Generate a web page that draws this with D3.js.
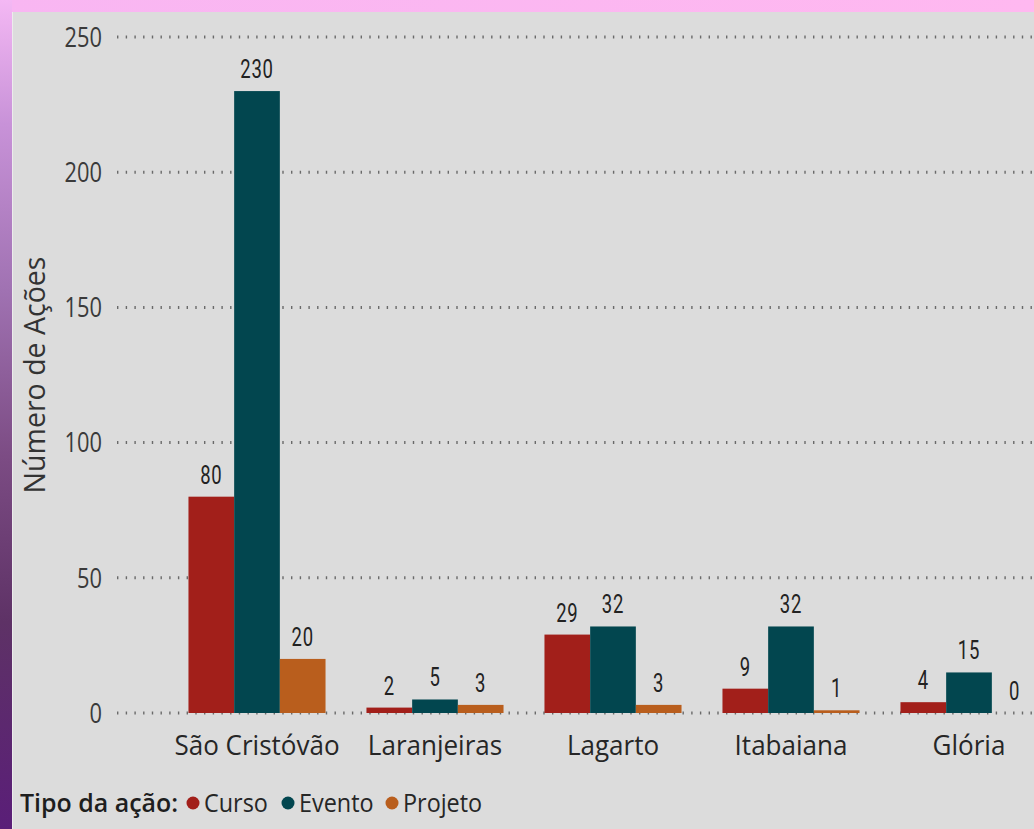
<!DOCTYPE html>
<html><head><meta charset="utf-8">
<script src="https://cdn.jsdelivr.net/npm/d3@7"></script>
<style>html,body{margin:0;padding:0;background:#dcdcdc;}svg{display:block;}</style>
</head><body>
<script>
const categories = ["São Cristóvão", "Laranjeiras", "Lagarto", "Itabaiana", "Glória"];
const seriesNames = ["Curso", "Evento", "Projeto"];
const curso = [80, 2, 29, 9, 4];
const evento = [230, 5, 32, 32, 15];
const projeto = [20, 3, 3, 1, 0];
const yTicks = [0, 50, 100, 150, 200, 250];
const colors = ["#a21f1a", "#02464f", "#b95e1d"];

const W = 1034, H = 829;
const svg = d3.select("body").append("svg").attr("width", W).attr("height", H);
const defs = svg.append("defs");
const lg = defs.append("linearGradient").attr("id","lband").attr("x1",0).attr("y1",0).attr("x2",0).attr("y2",1);
[["0","#f4b8f4"],["0.15","#c892d8"],["0.35","#a072b2"],["0.55","#7c4c84"],["0.75","#5e3266"],["1","#5a1e78"]]
  .forEach(s => lg.append("stop").attr("offset", s[0]).attr("stop-color", s[1]));
const tg = defs.append("linearGradient").attr("id","tband").attr("x1",0).attr("y1",0).attr("x2",1).attr("y2",0);
tg.append("stop").attr("offset","0").attr("stop-color","#f8b6f2");
tg.append("stop").attr("offset","1").attr("stop-color","#ffb8f0");

svg.append("rect").attr("width",W).attr("height",H).attr("fill","#dcdcdc");
svg.append("rect").attr("x",0).attr("y",0).attr("width",W).attr("height",12).attr("fill","url(#tband)");
svg.append("rect").attr("x",0).attr("y",0).attr("width",12).attr("height",H).attr("fill","url(#lband)");
svg.append("rect").attr("x",12).attr("y",12).attr("width",1).attr("height",H-12).attr("fill","#ececec");

const y = d3.scaleLinear().domain([0, 250]).range([713, 37]);
const x = d3.scaleBand().domain(categories).range([168, 1058]).paddingInner(0.23).paddingOuter(0.115);
const xs = d3.scaleBand().domain(seriesNames).range([0, x.bandwidth()]);

function txt(parent, px, py, s, o) {
  const g = parent.append("g").attr("transform", `translate(${px},${py}) scale(${o.sx},1)`);
  return g.append("text").text(s)
    .attr("text-anchor", o.anchor || "middle")
    .attr("font-family", o.family || "'Open Sans', sans-serif")
    .attr("font-size", o.size)
    .attr("font-weight", o.weight || 400)
    .attr("letter-spacing", o.ls || 0)
    .attr("fill", o.fill || "#333")
    .attr("dy", o.dy ?? "0.35em");
}

// gridlines
const grid = svg.append("g");
yTicks.forEach(t => {
  grid.append("line").attr("x1", 117).attr("x2", W).attr("y1", y(t)).attr("y2", y(t))
    .attr("stroke", "#6a6a6a").attr("stroke-width", 3).attr("stroke-dasharray", "1.4 7.3");
  txt(svg, 102, y(t), String(t), {anchor: "end", size: 28, fill: "#3a3a3a", sx: 0.78});
});

// bars
const data = categories.map((c, i) => ({cat: c, vals: [curso[i], evento[i], projeto[i]]}));
const groups = svg.append("g").selectAll("g").data(data).join("g")
  .attr("transform", d => `translate(${x(d.cat)},0)`);
groups.each(function(d) {
  const g = d3.select(this);
  d.vals.forEach((v, k) => {
    const bx = xs(seriesNames[k]);
    g.append("rect").attr("x", bx).attr("width", xs.bandwidth())
      .attr("y", y(v)).attr("height", y(0) - y(v)).attr("fill", colors[k]);
    txt(g, bx + xs.bandwidth()/2, y(v) - 13, String(v),
      {size: 25, weight: 400, family: "Roboto, sans-serif", fill: "#222", sx: 0.74, ls: 1, dy: 0});
  });
});

// category labels
categories.forEach(c => {
  txt(svg, x(c) + x.bandwidth()/2, 745, c, {size: 28, fill: "#262626", sx: 0.93});
});

// y title
const yt = svg.append("g").attr("transform", "translate(35,375) rotate(-90)");
yt.append("text").text("Número de Ações").attr("text-anchor","middle").attr("dy","0.35em")
  .attr("font-family","'Open Sans', sans-serif").attr("font-size",28.5).attr("fill","#333");

// legend
txt(svg, 20, 803, "Tipo da ação:", {anchor: "start", size: 26, weight: 600, fill: "#1e1e1e", sx: 0.96});
const legX = [193, 288, 392];
seriesNames.forEach((s, k) => {
  svg.append("circle").attr("cx", legX[k]).attr("cy", 803).attr("r", 6.5).attr("fill", colors[k]);
  txt(svg, legX[k] + 11, 803, s, {anchor: "start", size: 26, fill: "#262626", sx: 0.9});
});
</script>
</body></html>
